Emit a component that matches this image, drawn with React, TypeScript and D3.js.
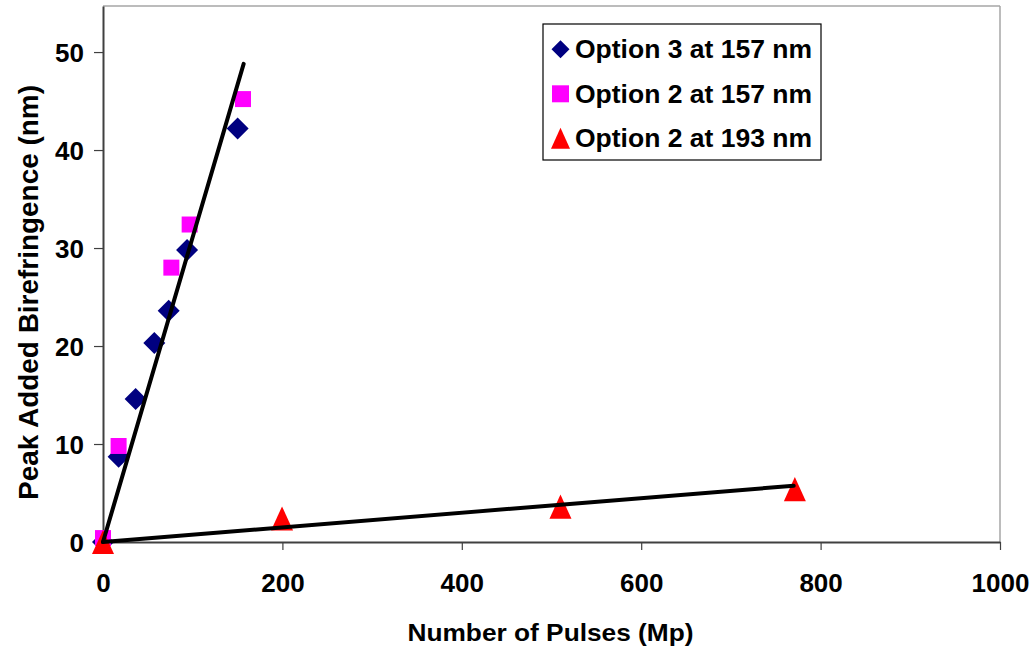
import React, { useEffect, useRef } from "react";
import * as d3 from "d3";

// Option 3 at 157 nm
const opt3x157 = [0, 17.4, 36.4, 57.2, 73.2, 93.7, 150.1];
const opt3y157 = [0, 8.7, 14.6, 20.3, 23.6, 29.8, 42.2];
// Option 2 at 157 nm
const opt2x157 = [0, 17.4, 76.2, 96.6, 156.1];
const opt2y157 = [0.4, 9.8, 28.0, 32.4, 45.2];
// Option 2 at 193 nm
const opt2x193 = [0, 199.6, 510, 771.3];
const opt2y193 = [0, 2.4, 3.6, 5.4];

// linear trend lines (end points)
const trend157x = [0, 156.8];
const trend157y = [0, 48.8];
const trend193x = [0, 770];
const trend193y = [0, 5.74];

const xTicks = [0, 200, 400, 600, 800, 1000];
const yTicks = [0, 10, 20, 30, 40, 50];
const legendLabels = ["Option 3 at 157 nm", "Option 2 at 157 nm", "Option 2 at 193 nm"];

const FONT = "'Liberation Sans', Arial, sans-serif";

const diamond = {
    draw(ctx: any, size: number) {
        const r = Math.sqrt(size) / 2;
        ctx.moveTo(0, -r);
        ctx.lineTo(r, 0);
        ctx.lineTo(0, r);
        ctx.lineTo(-r, 0);
        ctx.closePath();
    },
};

const triangle = {
    draw(ctx: any, size: number) {
        const s = Math.sqrt(size);
        ctx.moveTo(0, -s * 0.55);
        ctx.lineTo(s * 0.5, s * 0.55);
        ctx.lineTo(-s * 0.5, s * 0.55);
        ctx.closePath();
    },
};

export default function App() {
    const ref = useRef<SVGSVGElement>(null);

    useEffect(() => {
        const width = 1032, height = 649;
        const svg = d3.select(ref.current);
        svg.selectAll("*").remove();
        svg.attr("width", width).attr("height", height);

        const x = d3.scaleLinear().domain([0, 1000]).range([103, 1000]);
        const y = d3.scaleLinear().domain([0, 54.7]).range([542, 6]);

        svg.append("rect").attr("width", width).attr("height", height).attr("fill", "#fff");

        // plot border (top / right are light grey)
        svg.append("line")
            .attr("x1", x(0)).attr("x2", x(1000)).attr("y1", y(54.7)).attr("y2", y(54.7))
            .attr("stroke", "#a6a6a6").attr("stroke-width", 1.5);
        svg.append("line")
            .attr("x1", x(1000)).attr("x2", x(1000)).attr("y1", y(54.7)).attr("y2", y(0))
            .attr("stroke", "#a6a6a6").attr("stroke-width", 1.5);

        // axes
        const xAxis = svg.append("g")
            .attr("transform", `translate(0,${y(0)})`)
            .call(d3.axisBottom(x).tickValues(xTicks).tickFormat(d3.format("d")).tickSize(8).tickSizeOuter(0));
        const yAxis = svg.append("g")
            .attr("transform", `translate(${x(0)},0)`)
            .call(d3.axisLeft(y).tickValues(yTicks).tickFormat(d3.format("d")).tickSize(9).tickSizeOuter(0));

        [xAxis, yAxis].forEach(g => {
            g.select(".domain").attr("stroke", "#404040").attr("stroke-width", 2);
            g.selectAll(".tick line").attr("stroke", "#404040").attr("stroke-width", 1.2);
            g.selectAll(".tick text")
                .attr("fill", "#000")
                .attr("font-family", FONT)
                .attr("font-weight", "bold")
                .attr("font-size", 26);
        });
        xAxis.selectAll(".tick text").attr("dy", "0.71em").attr("y", 32);
        yAxis.selectAll(".tick text").attr("dy", "0.36em").attr("x", -19);

        // markers
        const markerLayer = svg.append("g");
        const addSeries = (xs: number[], ys: number[], type: any, size: number, color: string) => {
            markerLayer.selectAll(null)
                .data(xs.map((d, i) => [d, ys[i]]))
                .enter()
                .append("path")
                .attr("d", d3.symbol().type(type).size(size)() as string)
                .attr("transform", d => `translate(${x(d[0])},${y(d[1])})`)
                .attr("fill", color);
        };
        addSeries(opt3x157, opt3y157, diamond, 22 * 22, "#000080");
        addSeries(opt2x157, opt2y157, d3.symbolSquare, 16 * 16, "#ff00ff");
        addSeries(opt2x193, opt2y193, triangle, 22 * 22, "#ff0000");

        // trend lines on top
        const line = d3.line<number[]>().x(d => x(d[0])).y(d => y(d[1]));
        [[trend157x, trend157y], [trend193x, trend193y]].forEach(([xs, ys]) => {
            svg.append("path")
                .attr("d", line(xs.map((d, i) => [d, ys[i]])) as string)
                .attr("fill", "none")
                .attr("stroke", "#000")
                .attr("stroke-width", 4)
                .attr("stroke-linecap", "round");
        });

        // axis titles
        svg.append("text")
            .attr("x", 550.5).attr("y", 641)
            .attr("text-anchor", "middle")
            .attr("font-family", FONT).attr("font-weight", "bold").attr("font-size", 24)
            .attr("textLength", 286).attr("lengthAdjust", "spacingAndGlyphs")
            .text("Number of Pulses (Mp)");
        svg.append("text")
            .attr("transform", "translate(38,292.5) rotate(-90)")
            .attr("text-anchor", "middle")
            .attr("font-family", FONT).attr("font-weight", "bold").attr("font-size", 27)
            .attr("textLength", 415).attr("lengthAdjust", "spacingAndGlyphs")
            .text("Peak Added Birefringence (nm)");

        // legend
        const legend = svg.append("g");
        legend.append("rect")
            .attr("x", 543).attr("y", 24).attr("width", 278).attr("height", 136)
            .attr("fill", "#fff").attr("stroke", "#000").attr("stroke-width", 1.2);
        const legendTypes = [diamond, d3.symbolSquare, triangle];
        const legendColors = ["#000080", "#ff00ff", "#ff0000"];
        const legendSizes = [18 * 18, 17 * 17, 19 * 19];
        legendLabels.forEach((label, i) => {
            const cy = 49.3 + i * 44.5;
            legend.append("path")
                .attr("d", d3.symbol().type(legendTypes[i] as any).size(legendSizes[i])() as string)
                .attr("transform", `translate(560.5,${cy})`)
                .attr("fill", legendColors[i]);
            legend.append("text")
                .attr("x", 575).attr("y", cy + 9)
                .attr("font-family", FONT).attr("font-weight", "bold").attr("font-size", 25)
                .attr("textLength", 237).attr("lengthAdjust", "spacingAndGlyphs")
                .text(label);
        });
    }, []);

    return <svg ref={ref} style={{ position: "absolute", left: 0, top: 0 }}></svg>;
}
